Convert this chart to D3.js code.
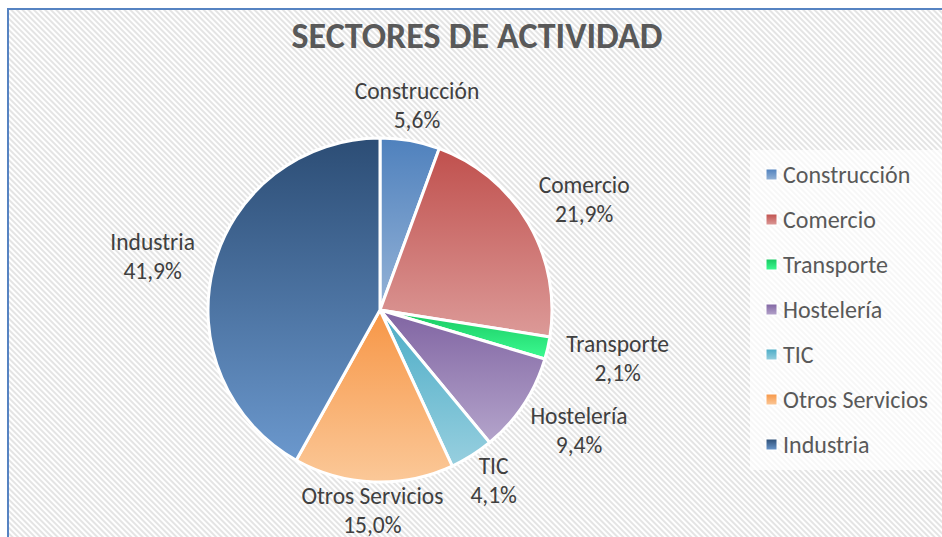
<!DOCTYPE html>
<html>
<head>
<meta charset="utf-8">
<script src="https://cdn.jsdelivr.net/npm/d3@7"></script>
<style>
  html, body { margin: 0; padding: 0; background: #fff; }
  svg { display: block; font-family: Carlito, Lato, "Open Sans", sans-serif; }
</style>
</head>
<body>
<svg id="chart"></svg>
<script>
// chart data
const sectors = ["Construcción", "Comercio", "Transporte", "Hostelería", "TIC", "Otros Servicios", "Industria"];
const shares = [5.6, 21.9, 2.1, 9.4, 4.1, 15.0, 41.9];
const colorTop = ["#4f81bd", "#c0504d", "#17c760", "#8064a2", "#4bacc6", "#f79646", "#2c4d75"];
const colorBottom = ["#95b3d7", "#dc9a98", "#3cfb91", "#b4a4cb", "#97cfdf", "#fbc898", "#6b98cd"];
const title = "SECTORES DE ACTIVIDAD";

document.addEventListener("DOMContentLoaded", function(){
    const width = 942;
    const height = 537;
    const cx = 380, cy = 310, radius = 172;

    const svg = d3.select("#chart")
        .attr("width", width)
        .attr("height", height);

    const defs = svg.append("defs");

    // striped background
    const pat = defs.append("pattern")
        .attr("id", "stripes")
        .attr("patternUnits", "userSpaceOnUse")
        .attr("width", 4)
        .attr("height", 4)
        .attr("patternTransform", "rotate(-45)");
    pat.append("rect").attr("width", 4).attr("height", 4).attr("fill", "#ffffff");
    pat.append("rect").attr("width", 2).attr("height", 4).attr("fill", "#e4e4e4");

    // one vertical gradient per slice
    sectors.forEach((s, i) => {
        const g = defs.append("linearGradient")
            .attr("id", "grad" + i)
            .attr("x1", 0).attr("y1", 0).attr("x2", 0).attr("y2", 1);
        g.append("stop").attr("offset", "0%").attr("stop-color", colorTop[i]);
        g.append("stop").attr("offset", "100%").attr("stop-color", colorBottom[i]);
    });

    svg.append("rect")
        .attr("x", 8).attr("y", 9)
        .attr("width", width).attr("height", height)
        .attr("fill", "url(#stripes)")
        .attr("stroke", "#5683c2")
        .attr("stroke-width", 2);

    // title
    svg.append("text")
        .attr("x", 477)
        .attr("y", 48)
        .attr("text-anchor", "middle")
        .attr("font-size", 36)
        .attr("font-weight", "bold")
        .attr("fill", "#595959")
        .text(title);

    const data = sectors.map((s, i) => ({name: s, value: shares[i], idx: i}));

    const pie = d3.pie()
        .sort(null)
        .value(d => d.value);

    const arc = d3.arc()
        .innerRadius(0)
        .outerRadius(radius);

    const arcs = pie(data);

    const g = svg.append("g")
        .attr("transform", "translate(" + cx + "," + cy + ")");

    g.selectAll("path")
        .data(arcs)
        .enter()
        .append("path")
        .attr("d", arc)
        .attr("fill", d => "url(#grad" + d.data.idx + ")")
        .attr("stroke", "#ffffff")
        .attr("stroke-width", 3)
        .attr("stroke-linejoin", "round");

    // labels outside end
    const fmt = v => v.toFixed(1).replace(".", ",") + "%";
    const halfH = 17;
    arcs.forEach(d => {
        const a = (d.startAngle + d.endAngle) / 2;
        const sx = Math.sin(a), sy = -Math.cos(a);
        const lbl = g.append("text")
            .attr("text-anchor", "middle")
            .attr("font-size", 23.5)
            .attr("fill", "#404040");
        lbl.append("tspan").attr("x", 0).attr("dy", 0).text(d.data.name);
        lbl.append("tspan").attr("x", 0).attr("dy", 29).text(fmt(d.data.value));
        const w = lbl.node().getBBox().width;
        const dist = radius + 10 + Math.abs(sx) * (w / 2 + 8) + Math.abs(sy) * halfH;
        const bx = dist * sx;
        const by = dist * sy * (1 - 0.1 * Math.abs(sx));
        lbl.attr("transform", "translate(" + bx + "," + (by - 7) + ")");
    });

    // legend
    const legend = svg.append("g");
    legend.append("rect")
        .attr("x", 750).attr("y", 150)
        .attr("width", 200).attr("height", 320)
        .attr("fill", "#ffffff")
        .attr("fill-opacity", 0.7);

    const items = legend.selectAll("g.item")
        .data(data)
        .enter()
        .append("g")
        .attr("class", "item")
        .attr("transform", (d, i) => "translate(766," + (175 + i * 45) + ")");
    items.append("rect")
        .attr("x", 0).attr("y", -6)
        .attr("width", 11).attr("height", 11)
        .attr("fill", d => "url(#grad" + d.idx + ")")
        .attr("stroke", "#ffffff")
        .attr("stroke-width", 1);
    items.append("text")
        .attr("x", 17)
        .attr("y", 8)
        .attr("font-size", 24)
        .attr("fill", "#595959")
        .text(d => d.name);
});
</script>
</body>
</html>
